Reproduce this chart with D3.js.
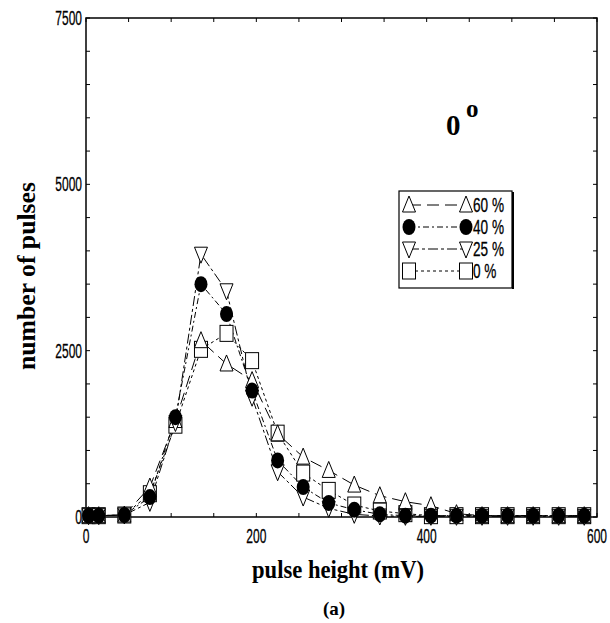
<!DOCTYPE html>
<html>
<head>
<meta charset="utf-8">
<script src="https://cdn.jsdelivr.net/npm/d3@7"></script>
<style>
  body { margin: 0; background: #fff; }
  .tick-label { font-family: "Liberation Sans", Arial, sans-serif; font-size: 20px; fill: #000; stroke: #000; stroke-width: 0.3; }
  .title { font-family: "Liberation Serif", "Times New Roman", serif; font-weight: bold; fill: #000; }
</style>
</head>
<body>
<div id="chart"></div>
<script>
// ── Data ─────────────────────────────────────────────────────────────────
const pulseHeight = [3, 15, 45, 75, 105, 135, 165, 195, 225, 255, 285, 315, 345, 375, 405, 435, 465, 495, 525, 555, 585];
const s60 = [20, 20, 30, 450, 1450, 2650, 2300, 2050, 1250, 900, 700, 480, 320, 230, 170, 50, 20, 20, 20, 20, 20];
const s40 = [20, 20, 30, 300, 1500, 3500, 3050, 1900, 850, 450, 210, 110, 40, 20, 20, 20, 20, 20, 20, 20, 20];
const s25 = [20, 20, 30, 220, 1420, 3950, 3400, 1800, 680, 300, 130, 40, 15, 10, 10, 10, 10, 10, 10, 10, 10];
const s0  = [20, 20, 30, 350, 1380, 2520, 2760, 2350, 1260, 660, 400, 180, 90, 50, 20, 20, 20, 20, 20, 20, 20];
const xTicks = [0, 200, 400, 600];
const yTicks = [0, 2500, 5000, 7500];
const legendLabels = ['60 %', '40 %', '25 %', '0 %'];

const series = [
  { name: legendLabels[3], values: s0,  marker: 'square',  dash: '3,3' },
  { name: legendLabels[0], values: s60, marker: 'triUp',   dash: '12,6' },
  { name: legendLabels[2], values: s25, marker: 'triDown', dash: '10,3,3,3' },
  { name: legendLabels[1], values: s40, marker: 'circle',  dash: '6,3,2,3' }
];

const W = 610, H = 623;
const M = { top: 18, right: 13, bottom: 106, left: 86 };
const iw = W - M.left - M.right;
const ih = H - M.top - M.bottom;
const NARROW = 0.6;   // tick labels in the picture are a very condensed sans

const svg = d3.select('#chart').append('svg').attr('width', W).attr('height', H);
const g = svg.append('g').attr('transform', `translate(${M.left},${M.top})`);

const x = d3.scaleLinear().domain([0, 600]).range([0, iw]);
const y = d3.scaleLinear().domain([0, 7500]).range([ih, 0]);

// ── Minor ticks (inside the frame, all four sides) ───────────────────────
const xMinor = d3.range(0, 601, 50);
const yMinor = d3.range(0, 7501, 500);
const tk = 4;
g.append('g').selectAll('line').data(xMinor).join('line')
  .attr('x1', d => x(d)).attr('x2', d => x(d)).attr('y1', ih).attr('y2', ih - tk)
  .attr('stroke', '#000');
g.append('g').selectAll('line').data(xMinor).join('line')
  .attr('x1', d => x(d)).attr('x2', d => x(d)).attr('y1', 0).attr('y2', tk)
  .attr('stroke', '#000');
g.append('g').selectAll('line').data(yMinor).join('line')
  .attr('x1', 0).attr('x2', tk).attr('y1', d => y(d)).attr('y2', d => y(d))
  .attr('stroke', '#000');
g.append('g').selectAll('line').data(yMinor).join('line')
  .attr('x1', iw).attr('x2', iw - tk).attr('y1', d => y(d)).attr('y2', d => y(d))
  .attr('stroke', '#000');

// ── Frame ────────────────────────────────────────────────────────────────
g.append('rect').attr('width', iw).attr('height', ih)
  .attr('fill', 'none').attr('stroke', '#000').attr('stroke-width', 1.5);

// ── Tick labels ──────────────────────────────────────────────────────────
g.append('g').selectAll('text').data(xTicks).join('text')
  .attr('class', 'tick-label')
  .attr('transform', d => `translate(${x(d)},${ih + 26}) scale(${NARROW},1)`)
  .attr('text-anchor', 'middle')
  .text(d => d);
g.append('g').selectAll('text').data(yTicks).join('text')
  .attr('class', 'tick-label')
  .attr('transform', d => `translate(-4,${y(d) + 7}) scale(${NARROW},1)`)
  .attr('text-anchor', 'end')
  .text(d => d);

// ── Lines ────────────────────────────────────────────────────────────────
const line = d3.line()
  .x((d, i) => x(pulseHeight[i]))
  .y(d => y(d));

series.forEach(s => {
  g.append('path').datum(s.values)
    .attr('d', line)
    .attr('fill', 'none')
    .attr('stroke', '#000')
    .attr('stroke-width', 1)
    .attr('stroke-dasharray', s.dash);
});

// ── Markers ──────────────────────────────────────────────────────────────
function marker(sel, type) {
  if (type === 'circle') {
    sel.append('ellipse').attr('rx', 6.5).attr('ry', 8).attr('fill', '#000');
  } else if (type === 'square') {
    sel.append('rect').attr('x', -6.5).attr('y', -8).attr('width', 13).attr('height', 16)
      .attr('fill', '#fff').attr('stroke', '#000').attr('stroke-width', 1);
  } else if (type === 'triUp') {
    sel.append('path').attr('d', 'M0,-9L6.5,7L-6.5,7Z')
      .attr('fill', '#fff').attr('stroke', '#000').attr('stroke-width', 1);
  } else if (type === 'triDown') {
    sel.append('path').attr('d', 'M0,9L6.5,-7L-6.5,-7Z')
      .attr('fill', '#fff').attr('stroke', '#000').attr('stroke-width', 1);
  }
}

series.forEach(s => {
  g.append('g').selectAll('g').data(s.values).join('g')
    .attr('transform', (d, i) => `translate(${x(pulseHeight[i])},${y(d)})`)
    .each(function () { marker(d3.select(this), s.marker); });
});

// ── Legend ───────────────────────────────────────────────────────────────
const legendOrder = [
  { label: legendLabels[0], marker: 'triUp',   dash: '12,6' },
  { label: legendLabels[1], marker: 'circle',  dash: '6,3,2,3' },
  { label: legendLabels[2], marker: 'triDown', dash: '10,3,3,3' },
  { label: legendLabels[3], marker: 'square',  dash: '3,3' }
];
const lg = svg.append('g').attr('transform', 'translate(399,191)');
lg.append('rect').attr('width', 113).attr('height', 97)
  .attr('fill', '#fff').attr('stroke', '#000').attr('stroke-width', 1.2);
lg.append('line').attr('x1', 114).attr('x2', 114).attr('y1', 1).attr('y2', 98)
  .attr('stroke', '#000').attr('stroke-width', 2);
legendOrder.forEach((d, i) => {
  const row = lg.append('g').attr('transform', `translate(0,${14 + i * 22})`);
  row.append('line').attr('x1', 10).attr('x2', 67).attr('y1', 0).attr('y2', 0)
    .attr('stroke', '#000').attr('stroke-dasharray', d.dash);
  row.append('g').attr('transform', 'translate(10,0)').call(s => marker(s, d.marker));
  row.append('g').attr('transform', 'translate(67,0)').call(s => marker(s, d.marker));
  row.append('text').attr('class', 'tick-label')
    .attr('transform', `translate(74,7) scale(0.68,1)`)
    .style('font-size', '20px').text(d.label);
});

// ── Annotation "0°" ──────────────────────────────────────────────────────
svg.append('text').attr('class', 'title').attr('x', 446).attr('y', 135)
  .style('font-size', '29px').text('0');
svg.append('text').attr('class', 'title').attr('x', 466).attr('y', 117)
  .style('font-size', '25px').text('o');

// ── Axis titles ──────────────────────────────────────────────────────────
svg.append('text').attr('class', 'title')
  .attr('x', 338).attr('y', 578)
  .attr('text-anchor', 'middle').style('font-size', '25px')
  .attr('textLength', 172).attr('lengthAdjust', 'spacingAndGlyphs')
  .text('pulse height (mV)');
svg.append('text').attr('class', 'title')
  .attr('transform', 'translate(35,276) rotate(-90)')
  .attr('text-anchor', 'middle').style('font-size', '25px')
  .attr('textLength', 188).attr('lengthAdjust', 'spacingAndGlyphs')
  .text('number of pulses');
svg.append('text').attr('class', 'title')
  .attr('x', 334).attr('y', 615)
  .attr('text-anchor', 'middle').style('font-size', '19px')
  .text('(a)');
</script>
</body>
</html>
